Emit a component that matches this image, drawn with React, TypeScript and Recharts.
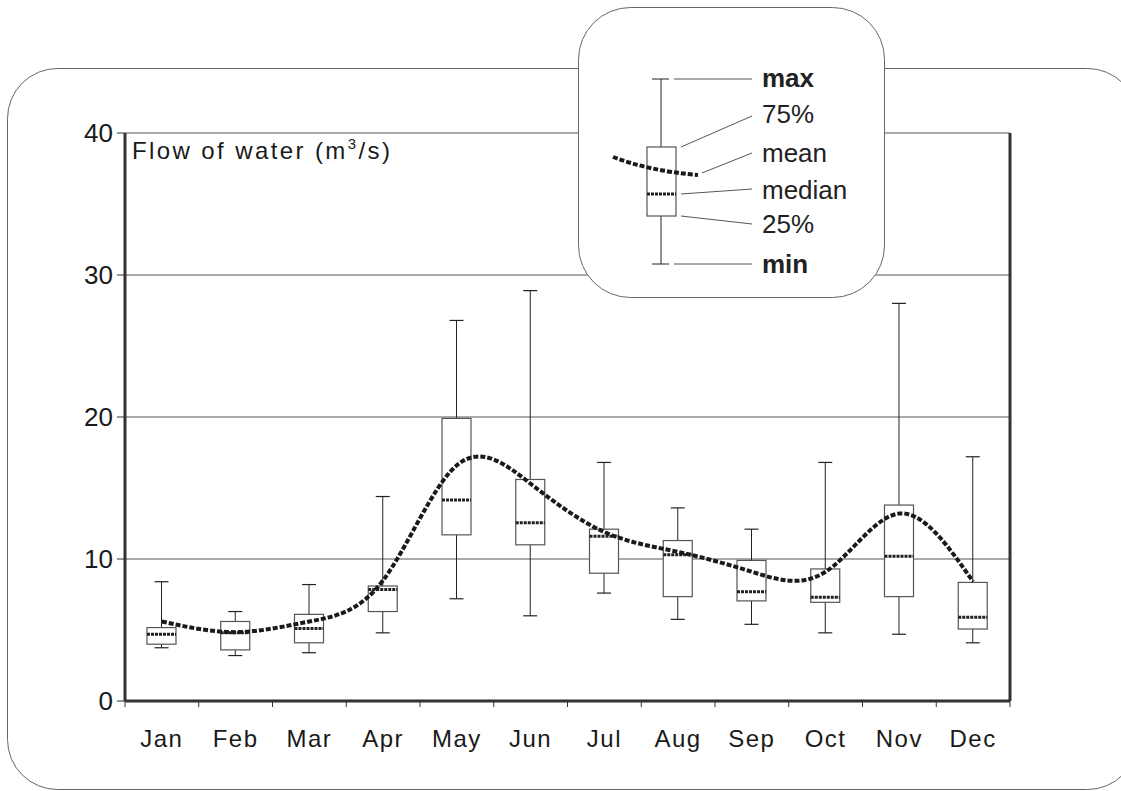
import { ComposedChart, Bar, Line, XAxis, YAxis, CartesianGrid, Legend } from 'recharts';

const FONT = '"Liberation Sans", Arial, sans-serif';

const months = ['Jan', 'Feb', 'Mar', 'Apr', 'May', 'Jun', 'Jul', 'Aug', 'Sep', 'Oct', 'Nov', 'Dec'];
const minFlow = [3.75, 3.2, 3.4, 4.8, 7.2, 6.0, 7.6, 5.75, 5.4, 4.8, 4.7, 4.1];
const q1Flow = [4.0, 3.6, 4.1, 6.3, 11.7, 11.0, 9.0, 7.35, 7.05, 6.95, 7.35, 5.07];
const medianFlow = [4.7, 4.8, 5.1, 7.85, 14.15, 12.55, 11.6, 10.3, 7.7, 7.3, 10.2, 5.9];
const q3Flow = [5.17, 5.6, 6.1, 8.1, 19.9, 15.6, 12.1, 11.3, 9.9, 9.3, 13.8, 8.35];
const maxFlow = [8.4, 6.3, 8.2, 14.4, 26.8, 28.9, 16.8, 13.6, 12.1, 16.8, 28.0, 17.2];
const meanFlow = [5.6, 4.85, 5.6, 8.5, 16.6, 15.3, 11.9, 10.5, 9.1, 9.1, 13.2, 8.4];
const yTicks = [0, 10, 20, 30, 40];
const legendLabels = ['max', '75%', 'mean', 'median', '25%', 'min'];

const data = months.map((month, i) => ({
    month,
    min: minFlow[i],
    q1: q1Flow[i],
    median: medianFlow[i],
    q3: q3Flow[i],
    max: maxFlow[i],
    mean: meanFlow[i],
}));

// box + whiskers, positions interpolated inside the [min,max] bar the library gives us
function BoxShape(props: any) {
    const { x, y, width, height, payload } = props;
    const { min, q1, median, q3, max } = payload;
    const toY = (v: number) => y + (height * (max - v)) / (max - min);
    const cx = x + width / 2;
    return (
        <g>
            <line x1={cx} x2={cx} y1={toY(max)} y2={toY(min)} stroke="#222" strokeWidth={1} />
            <line x1={cx - 7} x2={cx + 7} y1={toY(max)} y2={toY(max)} stroke="#222" strokeWidth={1.2} />
            <line x1={cx - 7} x2={cx + 7} y1={toY(min)} y2={toY(min)} stroke="#222" strokeWidth={1.2} />
            <rect x={x} y={toY(q3)} width={width} height={toY(q1) - toY(q3)} fill="#fff" stroke="#555" strokeWidth={1.2} />
            <line x1={x} x2={x + width} y1={toY(median)} y2={toY(median)} stroke="#222" strokeWidth={3} strokeDasharray="3 1" />
        </g>
    );
}

function MonthTick(props: any) {
    const { x, y, payload, index, visibleTicksCount } = props;
    const axisY = y - 8;
    const half = payload.offset || 36.9;
    return (
        <g>
            <line x1={x - half} x2={x - half} y1={axisY} y2={axisY + 6} stroke="#333" />
            {index === visibleTicksCount - 1 && (
                <line x1={x + half} x2={x + half} y1={axisY} y2={axisY + 6} stroke="#333" />
            )}
            <text x={x} y={axisY + 46} textAnchor="middle" fontSize={24} fill="#1a1a1a" fontFamily={FONT} letterSpacing={1.5}>
                {payload.value}
            </text>
        </g>
    );
}

function LegendBox() {
    const leader = '#555';
    const textY = [80, 116, 155, 192, 226, 266];
    return (
        <svg width={308} height={292}>
            <rect x={0.5} y={0.5} width={306} height={290} rx={52} fill="#fff" stroke="#666" />
            <line x1={83} x2={83} y1={72} y2={257} stroke="#222" />
            <line x1={74} x2={91} y1={72} y2={72} stroke="#222" />
            <line x1={74} x2={91} y1={257} y2={257} stroke="#222" />
            <rect x={69} y={140} width={29} height={69} fill="#fff" stroke="#555" strokeWidth={1.2} />
            <line x1={69} x2={98} y1={187} y2={187} stroke="#222" strokeWidth={3} strokeDasharray="3 1" />
            <path d="M35 150 Q 72 164 120 168" fill="none" stroke="#1a1a1a" strokeWidth={4} strokeDasharray="5 2" />
            <line x1={96} x2={174} y1={72} y2={72} stroke={leader} />
            <line x1={103} x2={174} y1={140} y2={109} stroke={leader} />
            <line x1={124} x2={174} y1={166} y2={146} stroke={leader} />
            <line x1={103} x2={174} y1={187} y2={182} stroke={leader} />
            <line x1={103} x2={174} y1={209} y2={217} stroke={leader} />
            <line x1={96} x2={174} y1={257} y2={257} stroke={leader} />
            {legendLabels.map((label, i) => (
                <text
                    key={label}
                    x={184}
                    y={textY[i]}
                    fontSize={26}
                    fontFamily={FONT}
                    fill="#222"
                    fontWeight={label === 'max' || label === 'min' ? 700 : 400}
                >
                    {label}
                </text>
            ))}
        </svg>
    );
}

export default function App() {
    return (
        <div style={{ position: 'absolute', left: 0, top: 0, width: 1121, height: 791, background: '#fff', overflow: 'hidden' }}>
            <svg width={1121} height={791} style={{ position: 'absolute', left: 0, top: 0 }}>
                <rect x={7.5} y={68.5} width={1130} height={721} rx={50} fill="none" stroke="#666" />
                <text x={132} y={159} fontSize={24} fontFamily={FONT} fill="#1a1a1a" letterSpacing={2.4}>
                    Flow of water (m
                    <tspan fontSize={15} dy={-10}>3</tspan>
                    <tspan dy={10}>/s)</tspan>
                </text>
            </svg>
            <ComposedChart
                width={1121}
                height={791}
                data={data}
                margin={{ top: 133, right: 101, bottom: 30, left: 65 }}
            >
                <CartesianGrid vertical={false} stroke="#555" strokeWidth={1} />
                <XAxis
                    dataKey="month"
                    height={60}
                    interval={0}
                    tickLine={false}
                    axisLine={{ stroke: '#333', strokeWidth: 3 }}
                    tick={<MonthTick />}
                />
                <YAxis
                    width={60}
                    domain={[0, 40]}
                    ticks={yTicks}
                    tickSize={8}
                    tickMargin={4}
                    axisLine={{ stroke: '#333', strokeWidth: 3 }}
                    tickLine={{ stroke: '#333' }}
                    tick={{ fontSize: 26, fill: '#1a1a1a', fontFamily: FONT }}
                />
                <YAxis
                    yAxisId="r"
                    orientation="right"
                    width={10}
                    domain={[0, 40]}
                    tick={false}
                    tickLine={false}
                    axisLine={{ stroke: '#333', strokeWidth: 3 }}
                />
                <Bar
                    dataKey={(d: any) => [d.min, d.max]}
                    barSize={29}
                    shape={<BoxShape />}
                    isAnimationActive={false}
                />
                <Line
                    dataKey="mean"
                    type="natural"
                    stroke="#1a1a1a"
                    strokeWidth={4}
                    strokeDasharray="5 2"
                    dot={false}
                    activeDot={false}
                    isAnimationActive={false}
                />
                <Legend
                    layout="horizontal"
                    verticalAlign="middle"
                    align="center"
                    content={() => <LegendBox />}
                    wrapperStyle={{ position: 'absolute', left: 578, top: 7, width: 308, height: 292 }}
                />
            </ComposedChart>
        </div>
    );
}
